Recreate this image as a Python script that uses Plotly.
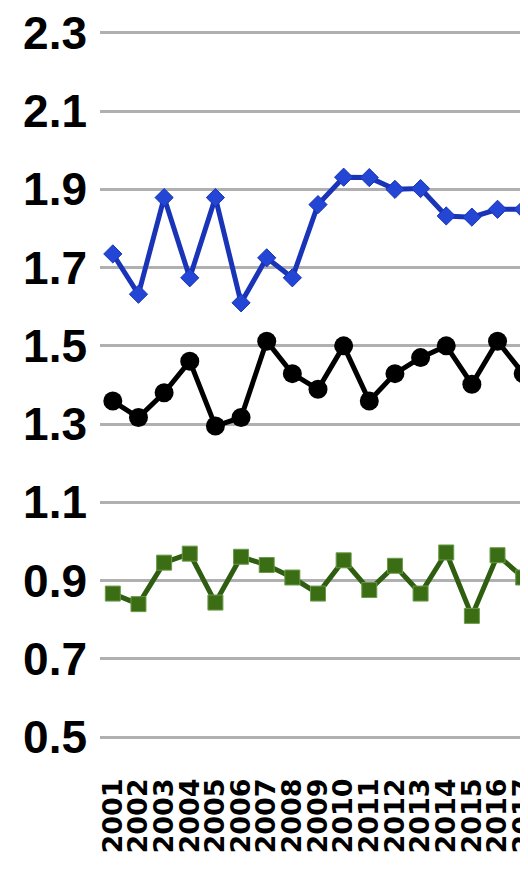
import plotly.graph_objects as go

years = [str(y) for y in range(2001, 2018)]
blue_vals = [1.735, 1.632, 1.879, 1.674, 1.879, 1.610, 1.725, 1.674, 1.861, 1.931,
             1.930, 1.900, 1.902, 1.832, 1.829, 1.849, 1.849]
black_vals = [1.359, 1.317, 1.380, 1.461, 1.295, 1.317, 1.512, 1.429, 1.389, 1.500,
              1.359, 1.429, 1.470, 1.500, 1.402, 1.512, 1.429]
green_vals = [0.867, 0.840, 0.946, 0.969, 0.844, 0.961, 0.940, 0.908, 0.867, 0.952,
              0.876, 0.938, 0.867, 0.972, 0.810, 0.965, 0.908]
y_ticks = [0.5, 0.7, 0.9, 1.1, 1.3, 1.5, 1.7, 1.9, 2.1, 2.3]

fig = go.Figure()
fig.add_trace(go.Scatter(
    x=years, y=blue_vals, mode="lines+markers",
    line=dict(color="#1a34b8", width=5),
    marker=dict(symbol="diamond", size=14, color="#2446d4",
                line=dict(color="#1a34b8", width=1)),
    showlegend=False))
fig.add_trace(go.Scatter(
    x=years, y=black_vals, mode="lines+markers",
    line=dict(color="#000000", width=5),
    marker=dict(symbol="circle", size=19, color="#000000"),
    showlegend=False))
fig.add_trace(go.Scatter(
    x=years, y=green_vals, mode="lines+markers",
    line=dict(color="#2f5e10", width=5),
    marker=dict(symbol="square", size=15, color="#3b6e14",
                line=dict(color="#6a9a48", width=1)),
    showlegend=False))

fig.update_layout(
    width=528, height=873,
    margin=dict(l=92, r=0, t=17, b=136),
    paper_bgcolor="white", plot_bgcolor="white",
    font=dict(family="Liberation Sans, Arial, sans-serif", color="#000000"),
)
fig.update_yaxes(
    range=[0.48, 2.32], tickmode="array", tickvals=y_ticks,
    ticktext=[f"{v:.1f}" for v in y_ticks],
    showgrid=True, gridcolor="#b0b0b0", gridwidth=3,
    zeroline=False, showline=False, ticks="",
    tickfont=dict(size=46, family="Liberation Sans", weight="bold"),
    ticklabelstandoff=12, automargin=False, ticklabeloverflow="allow",
)
fig.update_xaxes(
    type="category", range=[-0.5, 16.5],
    tickmode="array", tickvals=years, ticktext=years,
    showgrid=False, zeroline=False, showline=False, ticks="",
    tickangle=-90,
    tickfont=dict(size=27, family="DejaVu Sans", weight="bold"),
    ticklabelstandoff=27, automargin=False, ticklabeloverflow="allow",
)

fig.write_html("out.html")
